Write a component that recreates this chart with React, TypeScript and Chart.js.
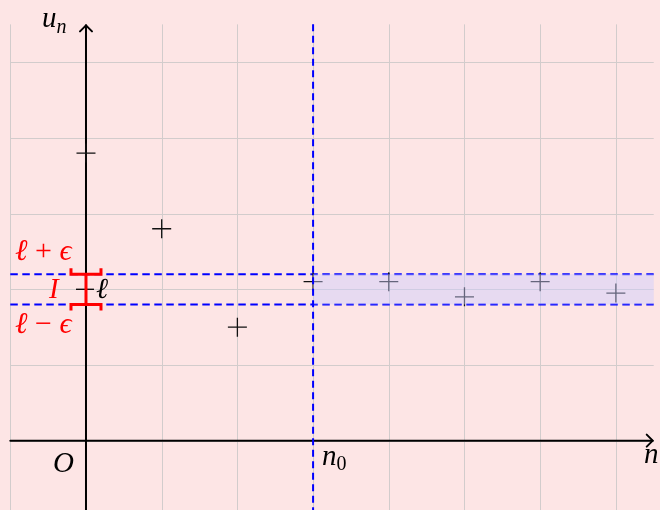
import React, { useEffect, useRef } from "react";
import { Chart, registerables } from "chart.js";

Chart.register(...registerables);

// Data
const N_VALUES = [0, 1, 2, 3, 4, 5, 6, 7];
const U_VALUES = [3.8, 2.8, 1.5, 2.1, 2.1, 1.9, 2.1, 1.95];
const ELL = 2;
const EPS = 0.2;
const N0 = 3;
const X_GRID = [-1, 0, 1, 2, 3, 4, 5, 6, 7];
const Y_GRID = [0, 1, 2, 3, 4, 5];
const X_MIN = -1.136;
const X_MAX = 7.583;
const Y_MIN = -0.916;
const Y_MAX = 5.822;
const GRID_X_END = 7.5;
const GRID_Y_END = 5.5;

const SERIF = '"Liberation Serif", "DejaVu Serif", serif';

type Part = { t: string; it?: boolean; size?: number; dy?: number };

function drawRich(ctx: CanvasRenderingContext2D, parts: Part[], x: number, y: number, color: string) {
  let cx = x;
  ctx.fillStyle = color;
  ctx.textBaseline = "alphabetic";
  ctx.textAlign = "left";
  for (const p of parts) {
    ctx.font = `${p.it === false ? "" : "italic "}${p.size ?? 28}px ${SERIF}`;
    ctx.fillText(p.t, cx, y + (p.dy ?? 0));
    cx += ctx.measureText(p.t).width;
  }
}

const figurePlugin = {
  id: "figure",
  beforeDraw(chart: any) {
    const ctx = chart.ctx as CanvasRenderingContext2D;
    ctx.save();
    ctx.fillStyle = "#fde5e5";
    ctx.fillRect(0, 0, chart.width, chart.height);
    ctx.restore();
  },
  beforeDatasetsDraw(chart: any) {
    const ctx = chart.ctx as CanvasRenderingContext2D;
    const xs = chart.scales.x;
    const ys = chart.scales.y;
    const px = (v: number) => xs.getPixelForValue(v);
    const py = (v: number) => ys.getPixelForValue(v);
    ctx.save();
    // grid
    ctx.strokeStyle = "#d2cccc";
    ctx.lineWidth = 1;
    for (const g of X_GRID) {
      ctx.beginPath();
      ctx.moveTo(Math.round(px(g)) + 0.5, py(GRID_Y_END));
      ctx.lineTo(Math.round(px(g)) + 0.5, chart.height);
      ctx.stroke();
    }
    for (const g of Y_GRID) {
      ctx.beginPath();
      ctx.moveTo(px(-1), Math.round(py(g)) + 0.5);
      ctx.lineTo(px(GRID_X_END), Math.round(py(g)) + 0.5);
      ctx.stroke();
    }
    // horizontal dashed lines
    ctx.strokeStyle = "#0000ff";
    ctx.lineWidth = 2;
    ctx.setLineDash([7.5, 4.5]);
    for (const v of [ELL + EPS, ELL - EPS]) {
      ctx.beginPath();
      ctx.moveTo(px(-1), py(v));
      ctx.lineTo(px(GRID_X_END), py(v));
      ctx.stroke();
    }
    ctx.setLineDash([]);
    // axes
    ctx.strokeStyle = "#000";
    ctx.lineWidth = 2;
    ctx.lineCap = "round";
    ctx.lineJoin = "round";
    const ax0 = px(-1);
    const ax1 = px(GRID_X_END) - 1;
    const ay = py(0);
    ctx.beginPath();
    ctx.moveTo(ax0, ay);
    ctx.lineTo(ax1, ay);
    ctx.stroke();
    ctx.beginPath();
    ctx.moveTo(ax1 - 6, ay - 6);
    ctx.lineTo(ax1, ay);
    ctx.lineTo(ax1 - 6, ay + 6);
    ctx.stroke();
    const yx = px(0);
    const yTop = py(GRID_Y_END) + 1;
    ctx.beginPath();
    ctx.moveTo(yx, chart.height);
    ctx.lineTo(yx, yTop);
    ctx.stroke();
    ctx.beginPath();
    ctx.moveTo(yx - 6, yTop + 6);
    ctx.lineTo(yx, yTop);
    ctx.lineTo(yx + 6, yTop + 6);
    ctx.stroke();
    ctx.restore();
  },
  afterDatasetsDraw(chart: any) {
    const ctx = chart.ctx as CanvasRenderingContext2D;
    const xs = chart.scales.x;
    const ys = chart.scales.y;
    const px = (v: number) => xs.getPixelForValue(v);
    const py = (v: number) => ys.getPixelForValue(v);
    ctx.save();
    // band
    ctx.fillStyle = "rgba(204,204,255,0.45)";
    ctx.fillRect(px(N0), py(ELL + EPS), px(GRID_X_END) - px(N0), py(ELL - EPS) - py(ELL + EPS));
    // vertical dashed line n0
    ctx.strokeStyle = "#0000ff";
    ctx.lineWidth = 2;
    ctx.setLineDash([7, 4.5]);
    ctx.beginPath();
    ctx.moveTo(px(N0), py(GRID_Y_END));
    ctx.lineTo(px(N0), chart.height);
    ctx.stroke();
    ctx.setLineDash([]);
    // ell tick
    const x0 = px(0);
    ctx.strokeStyle = "#000";
    ctx.lineWidth = 1.3;
    ctx.beginPath();
    ctx.moveTo(x0 - 10, py(ELL));
    ctx.lineTo(x0 + 8, py(ELL));
    ctx.stroke();
    // red bracket
    const yt = py(ELL + EPS);
    const yb = py(ELL - EPS);
    ctx.strokeStyle = "#ff0000";
    ctx.lineWidth = 3;
    ctx.lineJoin = "miter";
    ctx.beginPath();
    ctx.moveTo(x0, yt);
    ctx.lineTo(x0, yb);
    ctx.stroke();
    ctx.beginPath();
    ctx.moveTo(x0 - 15, yt - 6);
    ctx.lineTo(x0 - 15, yt);
    ctx.lineTo(x0 + 15, yt);
    ctx.lineTo(x0 + 15, yt - 6);
    ctx.stroke();
    ctx.beginPath();
    ctx.moveTo(x0 - 15, yb + 6);
    ctx.lineTo(x0 - 15, yb);
    ctx.lineTo(x0 + 15, yb);
    ctx.lineTo(x0 + 15, yb + 6);
    ctx.stroke();
    // labels
    const red = "#ff0000";
    drawRich(ctx, [{ t: "ℓ", size: 30 }, { t: " + ", it: false, size: 30 }, { t: "ϵ", size: 30 }], 15, 260, red);
    drawRich(ctx, [{ t: "ℓ", size: 30 }, { t: " − ", it: false, size: 30 }, { t: "ϵ", size: 30 }], 15, 333, red);
    drawRich(ctx, [{ t: "I", size: 29 }], 49, 298, red);
    drawRich(ctx, [{ t: "ℓ", size: 29 }], 96, 298, "#000");
    drawRich(ctx, [{ t: "u", size: 29 }, { t: "n", size: 20, dy: 6 }], 42, 27, "#000");
    drawRich(ctx, [{ t: "O", size: 29 }], 53, 472, "#000");
    drawRich(ctx, [{ t: "n", size: 29 }, { t: "0", it: false, size: 20, dy: 5 }], 322, 465, "#000");
    drawRich(ctx, [{ t: "n", size: 29 }], 644, 463, "#000");
    ctx.restore();
  },
};

export default function App() {
  const ref = useRef<HTMLCanvasElement | null>(null);
  useEffect(() => {
    if (!ref.current) return;
    const chart = new Chart(ref.current, {
      type: "scatter",
      data: {
        datasets: [
          {
            data: N_VALUES.map((n, i) => ({ x: n, y: U_VALUES[i] })),
            pointStyle: "cross",
            pointRadius: 9.5,
            pointHoverRadius: 9.5,
            borderColor: "#111",
            backgroundColor: "#111",
            pointBorderWidth: 1.3,
          },
        ],
      },
      options: {
        responsive: false,
        animation: false,
        events: [],
        layout: { padding: 0, autoPadding: false },
        plugins: { legend: { display: false }, tooltip: { enabled: false } },
        scales: {
          x: { type: "linear", min: X_MIN, max: X_MAX, display: false },
          y: { type: "linear", min: Y_MIN, max: Y_MAX, display: false },
        },
      },
      plugins: [figurePlugin],
    });
    return () => chart.destroy();
  }, []);
  return (
    <div style={{ position: "absolute", left: 0, top: 0, width: 660, height: 510, overflow: "hidden" }}>
      <canvas ref={ref} width={660} height={510} style={{ display: "block", width: 660, height: 510 }} />
    </div>
  );
}
